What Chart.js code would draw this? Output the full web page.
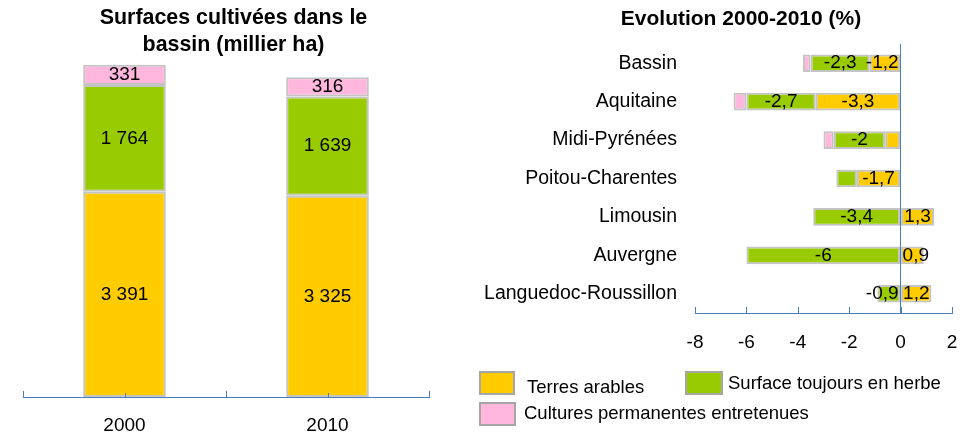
<!DOCTYPE html>
<html>
<head>
<meta charset="utf-8">
<script src="https://cdn.jsdelivr.net/npm/chart.js@4.4.1/dist/chart.umd.min.js"></script>
<style>
  body { margin: 0; background: #fff; font-family: "Liberation Sans", Arial, sans-serif; }
  #wrap { position: relative; width: 973px; height: 435px; overflow: hidden; }
  canvas { position: absolute; top: 0; }
  #c1 { left: 0; }
  #c2 { left: 470px; }
  .box { position: absolute; border: 2px solid #a6a6a6; }
  .txt { position: absolute; font-size: 18.5px; line-height: 20px; color: #000; white-space: nowrap; }
  #t2 { position: absolute; left: 541px; top: 5px; width: 400px; text-align: center;
        font-weight: bold; font-size: 21px; line-height: 25px; color: #000; }
</style>
</head>
<body>
<div id="wrap">
  <canvas id="c1" width="470" height="435"></canvas>
  <canvas id="c2" width="503" height="435"></canvas>
  <div id="t2">Evolution 2000-2010 (%)</div>

  <div class="box" style="left:479px;top:371px;width:32px;height:20px;background:#FFCC00"></div>
  <div class="txt" style="left:527px;top:377px">Terres arables</div>
  <div class="box" style="left:685px;top:371px;width:34px;height:20px;background:#99CC00"></div>
  <div class="txt" style="left:728px;top:373px">Surface toujours en herbe</div>
  <div class="box" style="left:479px;top:402px;width:33px;height:20px;background:#FFB7DE"></div>
  <div class="txt" style="left:524px;top:403px">Cultures permanentes entretenues</div>
</div>

<script>
// surfaces (millier ha)
const annees = ["2000", "2010"];
const terresSurf = [3391, 3325];
const herbeSurf = [1764, 1639];
const culturesSurf = [331, 316];

// evolution 2000-2010 (%)
const regions = [
  "Bassin",
  "Aquitaine",
  "Midi-Pyrénées",
  "Poitou-Charentes",
  "Limousin",
  "Auvergne",
  "Languedoc-Roussillon",
];
const terresEvol = [-1.2, -3.3, -0.6, -1.7, 1.3, 0.9, 1.2];
const herbeEvol = [-2.3, -2.7, -2.0, -0.8, -3.4, -6.0, -0.9];
const culturesEvol = [-0.3, -0.5, -0.4, 0, 0, 0, 0];
const evolTicks = [-8, -6, -4, -2, 0, 2];

const JAUNE = "#FFCC00";
const VERT = "#99CC00";
const ROSE = "#FFB7DE";
const BORD = "#c4c4c4";
const AXE = "#4A7EBB";
const FONT = "'Liberation Sans', Arial, sans-serif";

Chart.defaults.font.family = FONT;
Chart.defaults.color = "#000";

// labels in the middle of each bar segment
function makeLabels(format, show) {
  return {
    id: "valueLabels",
    afterDatasetsDraw(chart) {
      const ctx = chart.ctx;
      ctx.save();
      ctx.font = "19px " + FONT;
      ctx.fillStyle = "#000";
      ctx.textAlign = "center";
      ctx.textBaseline = "middle";
      chart.data.datasets.forEach((ds, i) => {
        if (ds.noLabels) return;
        chart.getDatasetMeta(i).data.forEach((bar, j) => {
          const v = ds.data[j];
          if (!show(v)) return;
          const p = bar.getProps(["x", "y", "base"], true);
          const txt = format(v);
          let x, y;
          if (chart.options.indexAxis === "y") {
            x = (p.x + p.base) / 2; y = p.y;
            // push a label that is wider than its bar away from zero
            const extra = ctx.measureText(txt).width - Math.abs(p.x - p.base);
            if (extra > 0) x += Math.sign(v) * (extra / 2 + 1.5);
          } else {
            x = p.x; y = (p.y + p.base) / 2;
          }
          ctx.fillText(txt, x, y);
        });
      });
      ctx.restore();
    }
  };
}

// small tick marks pointing up from the x axis
function makeTicks(getMarks) {
  return {
    id: "innerTicks",
    afterDraw(chart) {
      const ctx = chart.ctx;
      const a = chart.chartArea;
      ctx.save();
      ctx.strokeStyle = AXE;
      ctx.lineWidth = 1;
      getMarks(chart).forEach(m => {
        const x = Math.round(m.x) + 0.5;
        ctx.beginPath();
        ctx.moveTo(x, a.bottom);
        ctx.lineTo(x, a.bottom - m.len);
        ctx.stroke();
      });
      ctx.restore();
    }
  };
}

function milliers(v) {
  return String(v).replace(/\B(?=(\d{3})+(?!\d))/g, " ");
}

// --- left chart
new Chart(document.getElementById("c1"), {
  type: "bar",
  data: {
    labels: annees,
    datasets: [
      { label: "Terres arables", data: terresSurf, backgroundColor: JAUNE },
      { label: "Surface toujours en herbe", data: herbeSurf, backgroundColor: VERT },
      { label: "Cultures permanentes entretenues", data: culturesSurf, backgroundColor: ROSE },
    ]
  },
  options: {
    responsive: false,
    animation: false,
    layout: { padding: { left: 23, right: 26, top: 0, bottom: 0 } },
    datasets: {
      bar: { borderColor: BORD, borderWidth: 2, borderSkipped: false, barPercentage: 0.407, categoryPercentage: 1 }
    },
    plugins: {
      legend: { display: false },
      tooltip: { enabled: false },
      title: {
        display: true,
        text: ["Surfaces cultivées dans le", "bassin (millier ha)"],
        font: { size: 21.4, weight: "bold", lineHeight: 1.27 },
        color: "#000",
        padding: { top: 4.5, bottom: 0 }
      }
    },
    scales: {
      x: {
        stacked: true,
        grid: { display: false, drawTicks: false },
        border: { display: true, color: AXE, width: 1 },
        ticks: { font: { size: 19 }, color: "#000", padding: 17 },
        afterFit(scale) { scale.height = 38; }
      },
      y: {
        stacked: true,
        display: false,
        min: 0,
        max: 5585
      },
      // empty right axis, only to widen the title box
      yr: {
        position: "right",
        display: true,
        grid: { display: false, drawTicks: false },
        border: { display: false },
        ticks: { display: false },
        afterFit(scale) { scale.width = 15; }
      }
    }
  },
  plugins: [
    makeLabels(milliers, () => true),
    makeTicks(chart => {
      const a = chart.chartArea;
      const n = annees.length;
      const w = (a.right - a.left) / n;
      const marks = [];
      for (let k = 0; k <= n; k++) marks.push({ x: a.left + k * w, len: 6 });
      for (let k = 0; k < n; k++) marks.push({ x: a.left + (k + 0.5) * w, len: 4 });
      return marks;
    })
  ]
});

// --- right chart
new Chart(document.getElementById("c2"), {
  type: "bar",
  data: {
    labels: regions,
    datasets: [
      { label: "Terres arables", data: terresEvol, backgroundColor: JAUNE },
      { label: "Surface toujours en herbe", data: herbeEvol, backgroundColor: VERT },
      { label: "Cultures permanentes entretenues", data: culturesEvol, backgroundColor: ROSE, noLabels: true },
    ]
  },
  options: {
    responsive: false,
    animation: false,
    indexAxis: "y",
    layout: { padding: { left: 0, right: 21, top: 44, bottom: 72 } },
    datasets: {
      bar: { borderColor: BORD, borderWidth: 2, borderSkipped: false, barPercentage: 0.46, categoryPercentage: 1 }
    },
    plugins: {
      legend: { display: false },
      tooltip: { enabled: false }
    },
    scales: {
      x: {
        stacked: true,
        min: evolTicks[0],
        max: evolTicks[evolTicks.length - 1],
        afterBuildTicks(scale) { scale.ticks = evolTicks.map(v => ({ value: v })); },
        grid: {
          drawTicks: false,
          color: ctx => (ctx.tick && ctx.tick.value === 0 ? AXE : "rgba(0,0,0,0)"),
          lineWidth: 1
        },
        border: { display: true, color: AXE, width: 1 },
        ticks: { font: { size: 19 }, color: "#000", padding: 18.6 },
        afterFit(scale) {
          scale.height = 50;
          scale.paddingLeft = 0;
          scale.paddingRight = 0;
        }
      },
      y: {
        stacked: true,
        grid: { display: false, drawTicks: false },
        border: { display: false },
        ticks: { font: { size: 19.5 }, color: "#000", padding: 18 },
        afterFit(scale) { scale.width = 225; }
      }
    }
  },
  plugins: [
    makeLabels(v => String(v).replace(".", ","), v => Math.abs(v) >= 0.85),
    makeTicks(chart => {
      const sx = chart.scales.x;
      return evolTicks.map(v => ({ x: sx.getPixelForValue(v), len: 6 }));
    })
  ]
});
</script>
</body>
</html>
